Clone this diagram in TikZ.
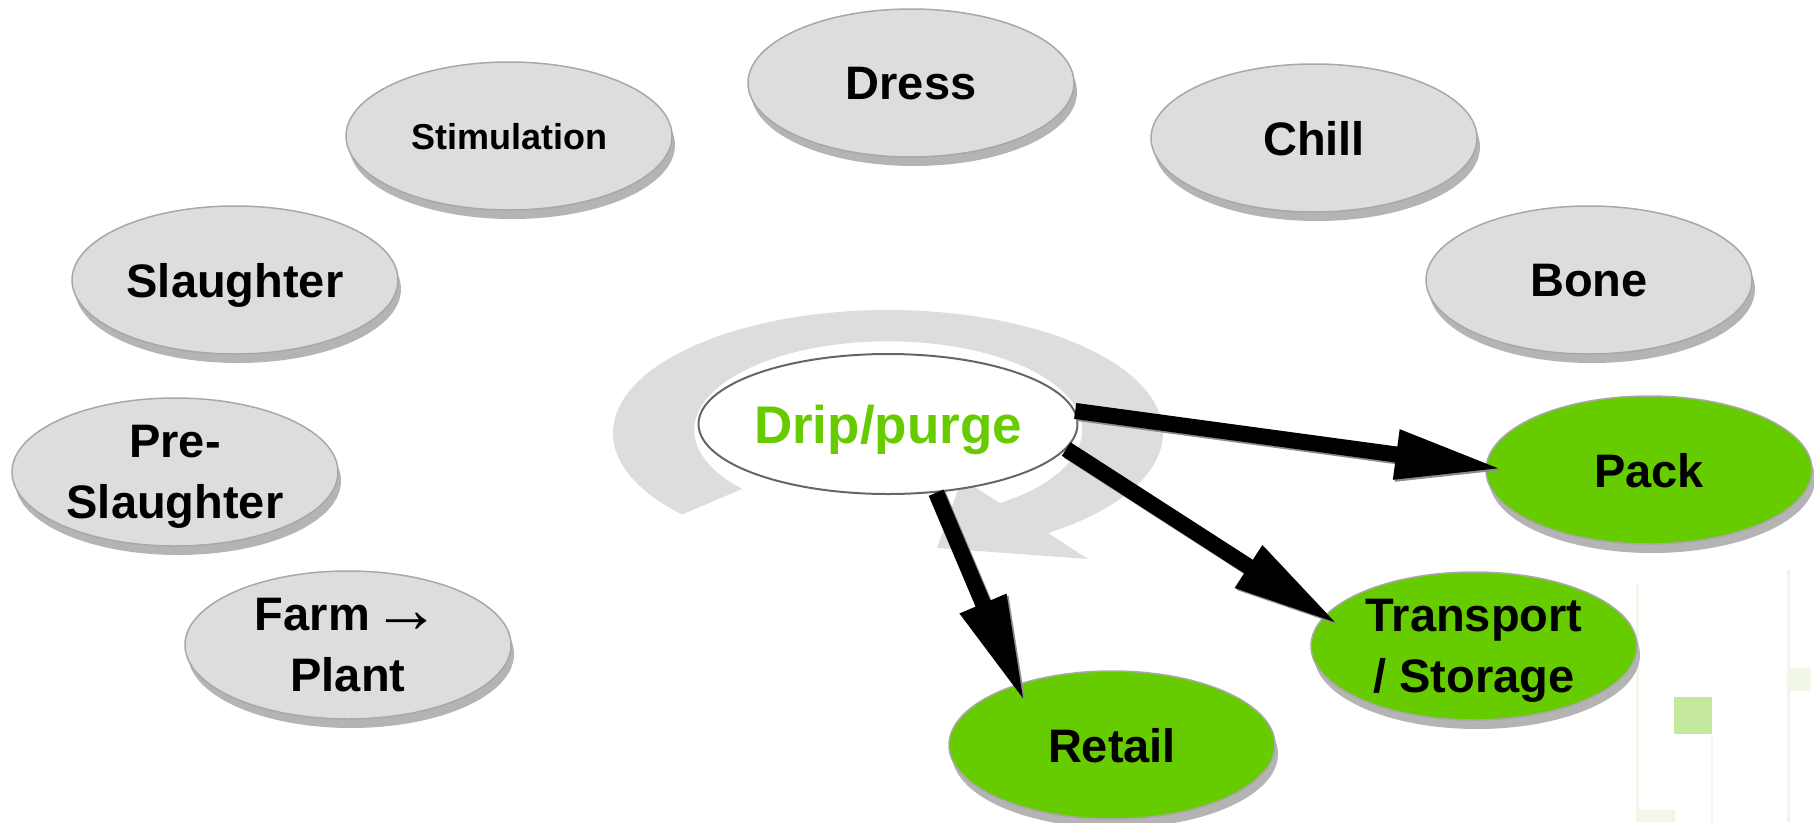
\documentclass[tikz,border=0pt]{standalone}
\usepackage{fontspec}
\usepackage{graphicx}
\setmainfont{Liberation Sans}
\usetikzlibrary{shapes.geometric,arrows.meta,calc,shadows}
\definecolor{ringgray}{HTML}{DDDDDD}
\definecolor{nodegray}{HTML}{DDDDDD}
\definecolor{leaf}{HTML}{66CC00}
\definecolor{edgegray}{HTML}{A8A8A8}
\definecolor{shadowgray}{HTML}{B4B4B4}
\definecolor{faintgreen}{HTML}{F1F7E8}
\definecolor{squaregreen}{HTML}{C4E89C}
\begin{document}
\begin{tikzpicture}[x=1pt,y=-1pt,
  stage/.style={ellipse, minimum width=326pt, minimum height=148pt, inner sep=0pt,
    fill=nodegray, draw=edgegray, line width=1.5pt, align=center,
    font=\fontsize{47}{61}\selectfont\bfseries, text depth=0pt,
    drop shadow={shadow xshift=3pt, shadow yshift=-9pt, fill=shadowgray, opacity=1}},
  outstage/.style={stage, fill=leaf},
  centre/.style={ellipse, minimum width=362pt, minimum height=140pt, inner sep=0pt,
    fill=white, draw=black!60, line width=2pt, text=leaf,
    font=\fontsize{53}{60}\selectfont\bfseries},
  flow/.style={-{Triangle[length=108pt,width=46pt]}, line width=16pt, black},
  flowshade/.style={-{Triangle[length=108pt,width=46pt]}, line width=16pt, black!45},
]
\useasboundingbox (0,0) rectangle (1814,822);

% faint background decoration at the right edge
\fill[faintgreen] (1636,585) rectangle (1639,822);
\fill[faintgreen] (1787,570) rectangle (1790,822);
\fill[faintgreen] (1711,734) rectangle (1713,822);
\fill[faintgreen] (1788,668) rectangle (1811,691);
\fill[faintgreen] (1637,810) rectangle (1675,822);
\fill[squaregreen] (1674,697) rectangle (1712,734);

% circular grey arrow behind the centre node
\fill[ringgray] (682,514.5)
  arc[start angle=138.5, end angle=414.4, x radius=275, y radius=123]
  -- (1088,559) -- (937,548) -- (962,479) -- (1000,503)
  arc[start angle=414.8, end angle=138.8, x radius=194, y radius=89]
  -- cycle;

% stages
\node[stage] (dress) at (911,83) {Dress};
\node[stage, font=\fontsize{36}{44}\selectfont\bfseries] (stim) at (509,136) {Stimulation};
\node[stage] (chill) at (1314,138) {Chill};
\node[stage] (slaughter) at (235,280) {Slaughter};
\node[stage] (bone) at (1589,280) {Bone};
\node[stage] (pre) at (175,472) {Pre-\\Slaughter};
\node[stage] (farm) at (348,645) {Farm\kern3pt\raisebox{-2pt}{\scalebox{1.45}{\mdseries\symbol{"2192}}}\\Plant};
\node[outstage] (pack) at (1649,470) {Pack};
\node[outstage] (transport) at (1474,646) {Transport\\/ Storage};
\node[outstage] (retail) at (1112,745) {Retail};

\node[centre, text depth=0pt] (drip) at (888,424) {Drip/purge};

% connectors
\coordinate (packtip) at ($(pack.west)+(18,-1)$);
\coordinate (transtip) at ($(transport.west)+(29,-21)$);
\coordinate (retailtip) at ($(retail.center)+(-87,-42)$);

\draw[flowshade] ($(drip.4)+(2,2)$) -- ($(packtip)+(2,2)$);
\draw[flowshade] ($(drip.-8)+(2,2)$) -- ($(transtip)+(2,2)$);
\draw[flowshade] ($(drip.-55)+(2,2)$) -- ($(retailtip)+(2,2)$);
\draw[flow] (drip.4) -- (packtip);
\draw[flow] (drip.-8) -- (transtip);
\draw[flow] (drip.-55) -- (retailtip);
\end{tikzpicture}
\end{document}
